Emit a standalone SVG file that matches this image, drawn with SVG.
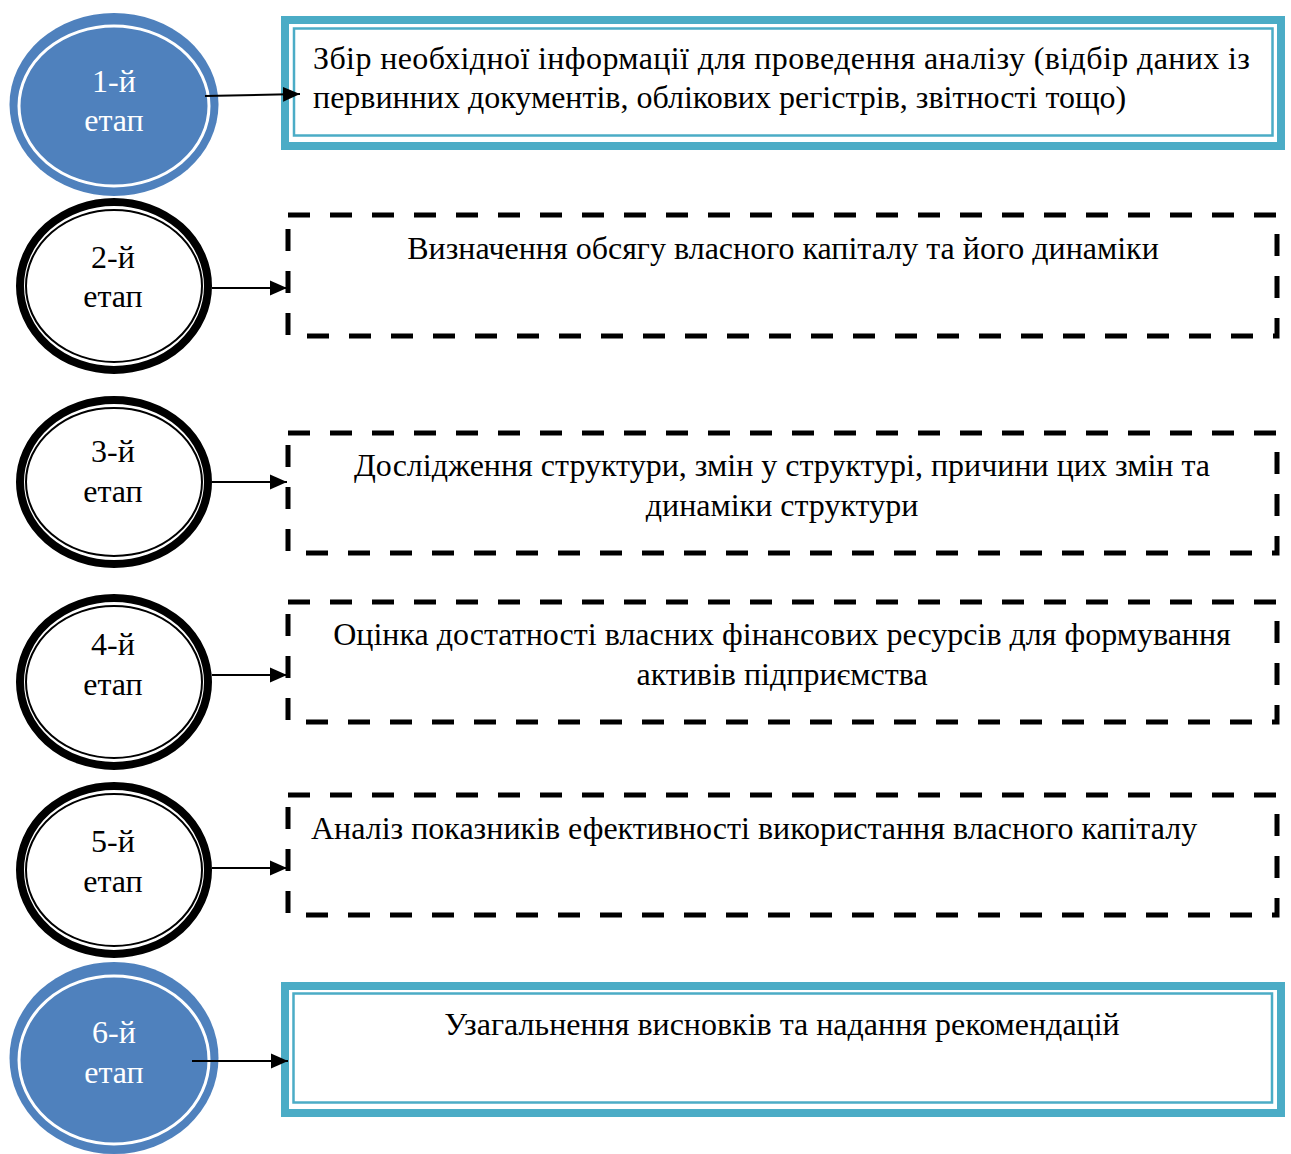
<svg xmlns="http://www.w3.org/2000/svg" width="1291" height="1154" viewBox="0 0 1291 1154">
<style>
.t{font-family:"Liberation Serif","Times New Roman",serif;font-size:32px;fill:#000}
.w{font-family:"Liberation Serif","Times New Roman",serif;font-size:32px;fill:#fff}
.bo{fill:none;stroke:#000;stroke-width:8}
.bi{fill:none;stroke:#000;stroke-width:2}
.blue{fill:#4F81BD}
.bring{fill:none;stroke:#fff;stroke-width:3}
.tk{fill:none;stroke:#4BACC6;stroke-width:8}
.tn{fill:none;stroke:#4BACC6;stroke-width:2.5}
.dash{fill:none;stroke:#000;stroke-width:5;stroke-dasharray:22 20}
.c{fill:none;stroke:#000;stroke-width:2}
</style>
<defs>
<marker id="ah" markerUnits="userSpaceOnUse" markerWidth="20" markerHeight="16" refX="17" refY="8" orient="auto">
<path d="M0,0.5 L17,8 L0,15.5 Z" fill="#000"/>
</marker>
</defs>

<g id="stage1">
<ellipse class="blue" cx="114" cy="104.5" rx="104.5" ry="91.5"/>
<ellipse class="bring" cx="114" cy="106" rx="95" ry="80"/>
<text class="w" x="114" y="92" text-anchor="middle">1-й</text>
<text class="w" x="114" y="131" text-anchor="middle">етап</text>
</g>
<g id="box1">
<rect class="tk" x="285" y="20" width="996" height="126"/>
<rect class="tn" x="294" y="28.5" width="978.5" height="107"/>
<text class="t" x="313" y="69" textLength="937" lengthAdjust="spacing">Збір необхідної інформації для проведення аналізу (відбір даних із</text>
<text class="t" x="313" y="108">первинних документів, облікових регістрів, звітності тощо)</text>
</g>

<g id="stage2">
<ellipse class="bo" cx="114" cy="286" rx="94" ry="84"/>
<ellipse class="bi" cx="114" cy="286" rx="88" ry="76"/>
<text class="t" x="113" y="268" text-anchor="middle">2-й</text>
<text class="t" x="113" y="307" text-anchor="middle">етап</text>
</g>
<g id="box2">
<rect class="dash" x="288" y="215" width="989" height="121"/>
<text class="t" x="783" y="259" text-anchor="middle">Визначення обсягу власного капіталу та його динаміки</text>
</g>

<g id="stage3">
<ellipse class="bo" cx="114" cy="482" rx="94" ry="82"/>
<ellipse class="bi" cx="114" cy="482" rx="88" ry="74"/>
<text class="t" x="113" y="462" text-anchor="middle">3-й</text>
<text class="t" x="113" y="502" text-anchor="middle">етап</text>
</g>
<g id="box3">
<rect class="dash" x="288" y="433" width="989" height="120"/>
<text class="t" x="782" y="476" text-anchor="middle">Дослідження структури, змін у структурі, причини цих змін та</text>
<text class="t" x="782" y="516" text-anchor="middle">динаміки структури</text>
</g>

<g id="stage4">
<ellipse class="bo" cx="114" cy="682" rx="94" ry="84"/>
<ellipse class="bi" cx="114" cy="682" rx="88" ry="76"/>
<text class="t" x="113" y="655" text-anchor="middle">4-й</text>
<text class="t" x="113" y="695" text-anchor="middle">етап</text>
</g>
<g id="box4">
<rect class="dash" x="288" y="602" width="989" height="120"/>
<text class="t" x="782" y="645" text-anchor="middle">Оцінка достатності власних фінансових ресурсів для формування</text>
<text class="t" x="782" y="685" text-anchor="middle">активів підприємства</text>
</g>

<g id="stage5">
<ellipse class="bo" cx="114" cy="870" rx="94" ry="84"/>
<ellipse class="bi" cx="114" cy="870" rx="88" ry="76"/>
<text class="t" x="113" y="852" text-anchor="middle">5-й</text>
<text class="t" x="113" y="892" text-anchor="middle">етап</text>
</g>
<g id="box5">
<rect class="dash" x="288" y="795" width="989" height="120"/>
<text class="t" x="311" y="839">Аналіз показників ефективності використання власного капіталу</text>
</g>

<g id="stage6">
<ellipse class="blue" cx="114" cy="1058" rx="104.5" ry="96"/>
<ellipse class="bring" cx="114" cy="1060" rx="95" ry="84"/>
<text class="w" x="114" y="1043" text-anchor="middle">6-й</text>
<text class="w" x="114" y="1083" text-anchor="middle">етап</text>
</g>
<g id="box6">
<rect class="tk" x="285" y="986" width="996" height="127"/>
<rect class="tn" x="293.5" y="993.5" width="978.5" height="109"/>
<text class="t" x="782" y="1035" text-anchor="middle">Узагальнення висновків та надання рекомендацій</text>
</g>

<g id="connectors">
<line class="c" x1="205" y1="96" x2="300" y2="94" marker-end="url(#ah)"/>
<line class="c" x1="212" y1="288" x2="287" y2="288" marker-end="url(#ah)"/>
<line class="c" x1="212" y1="482" x2="287" y2="482" marker-end="url(#ah)"/>
<line class="c" x1="212" y1="675" x2="287" y2="675" marker-end="url(#ah)"/>
<line class="c" x1="212" y1="868" x2="287" y2="868" marker-end="url(#ah)"/>
<line class="c" x1="192" y1="1061" x2="288" y2="1061" marker-end="url(#ah)"/>
</g>
</svg>
